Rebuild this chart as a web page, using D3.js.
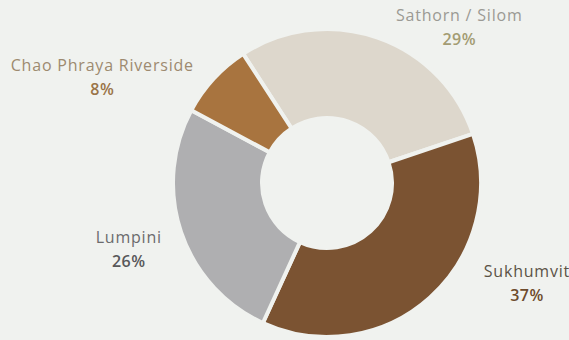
<!DOCTYPE html>
<html>
<head>
<meta charset="utf-8">
<script src="https://cdn.jsdelivr.net/npm/d3@7"></script>
<style>
  html, body { margin: 0; padding: 0; background: #f0f2ef; }
  svg { display: block; }
  text { font-family: "Open Sans", "Noto Sans", sans-serif; }
</style>
</head>
<body>
<svg id="chart" width="569" height="340"></svg>
<script>
// Office stock share by Bangkok district
const districts = ["Sathorn / Silom", "Sukhumvit", "Lumpini", "Chao Phraya Riverside"];
const shares = [29, 37, 26, 8];
const sliceColors = ["#ddd7cc", "#7b5332", "#afafb1", "#a8743f"];
const nameColors = ["#9b9a94", "#5b5246", "#6b6b6d", "#9d8a70"];
const valueColors = ["#a39c73", "#6d4b2c", "#58585a", "#9a7447"];
// label nudges from the arc anchor point [dx, dy]
const labelNudge = [[13, 4], [43, -27], [-4, 11], [-8, 8]];

const width = 569, height = 340;
const cx = 327, cy = 183;
const outerR = 154, innerR = 65;
const startAngle = -33 * Math.PI / 180;

const svg = d3.select("#chart");
svg.append("rect").attr("width", width).attr("height", height).attr("fill", "#f0f2ef");

const data = districts.map((name, i) => ({ name, value: shares[i], i }));

const pie = d3.pie()
  .sort(null)
  .value(d => d.value)
  .startAngle(startAngle)
  .endAngle(startAngle + 2 * Math.PI);

const arc = d3.arc().innerRadius(innerR).outerRadius(outerR);
const anchorArc = d3.arc().innerRadius(170).outerRadius(170);

const g = svg.append("g").attr("transform", `translate(${cx},${cy})`);
const arcs = pie(data);

g.selectAll("path.slice")
  .data(arcs)
  .join("path")
  .attr("class", "slice")
  .attr("d", arc)
  .attr("fill", d => sliceColors[d.data.i])
  .attr("stroke", "#f0f2ef")
  .attr("stroke-width", 4)
  .attr("stroke-linejoin", "round");

const labels = g.selectAll("g.label")
  .data(arcs)
  .join("g")
  .attr("class", "label");

labels.each(function(d) {
  const grp = d3.select(this);
  const [ax, ay] = anchorArc.centroid(d);
  const mid = (d.startAngle + d.endAngle) / 2;
  const right = Math.sin(mid) > 0;
  const nameText = grp.append("text")
    .attr("text-anchor", "middle")
    .attr("font-size", 16)
    .attr("letter-spacing", 0.8)
    .attr("fill", nameColors[d.data.i])
    .text(d.data.name);
  const w = nameText.node().getComputedTextLength();
  const [nx, ny] = labelNudge[d.data.i];
  const x = ax + (right ? w / 2 : -w / 2) + nx;
  const y = ay + ny;
  nameText.attr("x", x).attr("y", y - 5);
  grp.append("text")
    .attr("text-anchor", "middle")
    .attr("x", x)
    .attr("y", y + 19)
    .attr("font-size", 16)
    .attr("font-weight", 600)
    .attr("letter-spacing", 0.5)
    .attr("fill", valueColors[d.data.i])
    .text(d.data.value + "%");
});
</script>
</body>
</html>
